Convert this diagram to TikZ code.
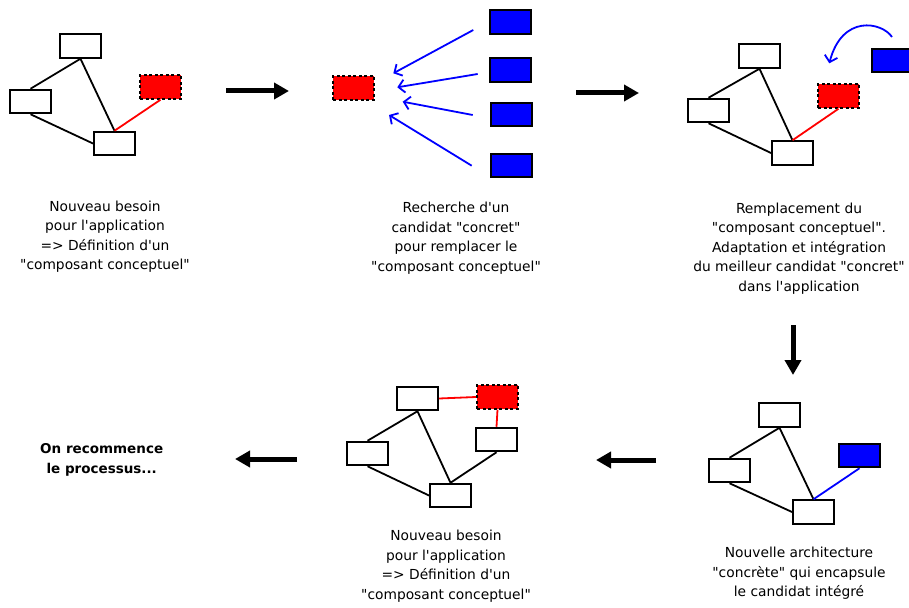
\documentclass[tikz,border=0pt]{standalone}
\usepackage{fontspec}
\setmainfont{DejaVu Sans}[Ligatures=TeXOff]
\usetikzlibrary{arrows.meta}
\begin{document}
\begin{tikzpicture}[x=1pt,y=-1pt,
  box/.style={draw=black, line width=2pt, fill=white, minimum width=41pt, minimum height=23.5pt, inner sep=0pt},
  redbox/.style={box, fill=red, dash pattern=on 3pt off 2.5pt},
  bluebox/.style={box, fill=blue},
  link/.style={line width=1.8pt, black},
  redlink/.style={line width=1.8pt, red},
  bluelink/.style={line width=1.8pt, blue},
  bigarrow/.style={line width=5pt, -{Triangle[length=15pt,width=16pt]}},
  barb/.style={blue, line width=1.8pt, -{Straight Barb[length=6pt,width=13pt]}},
  txt/.style={align=center, inner sep=0pt, anchor=north, font=\fontsize{13.8}{19.5}\selectfont},
]
\useasboundingbox (0,0) rectangle (909,607);
\clip (0,0) rectangle (909,607);

% Panel 1
\node[box] (A1) at (80.5,46) {};
\node[box] (B1) at (30.5,101.5) {};
\node[box] (C1) at (114.5,143.5) {};
\node[redbox] (R1) at (160.5,87) {};
\draw[link] (A1.south) -- (B1.north);
\draw[link] (B1.south) -- (C1.west);
\draw[link] (A1.south) -- (C1.north);
\draw[redlink] (R1.south) -- (C1.north);

% Panel 2
\node[redbox] (R2) at (353.5,88) {};
\node[bluebox] (P1) at (510.5,22) {};
\node[bluebox] (P2) at (510.5,70) {};
\node[bluebox] (P3) at (511,114.5) {};
\node[bluebox] (P4) at (511,165.5) {};
\coordinate (s1) at (473.3,30);  \coordinate (e1) at (393.3,73.3);
\coordinate (s2) at (477.7,74);  \coordinate (e2) at (397.3,87.3);
\coordinate (s3) at (472.7,115); \coordinate (e3) at (402.7,101.7);
\coordinate (s4) at (471.7,165.7); \coordinate (e4) at (389,115);
\draw[barb] (s1) -- (e1);
\draw[barb] (s2) -- (e2);
\draw[barb] (s3) -- (e3);
\draw[barb] (s4) -- (e4);

% Panel 3
\node[box] (A3) at (759.5,56) {};
\node[box] (B3) at (708.5,110.5) {};
\node[box] (C3) at (792.5,153) {};
\node[redbox] (R3) at (838.5,96) {};
\node[bluebox] (Q3) at (892.5,60.5) {};
\draw[link] (A3.south) -- (B3.north);
\draw[link] (B3.south) -- (C3.west);
\draw[link] (A3.south) -- (C3.north);
\draw[redlink] (R3.south) -- (C3.north);
\coordinate (cs) at (892,37);
\coordinate (ce) at (829.3,63.3);
\draw[barb] (cs) .. controls (882,22) and (842,14) .. (ce);

% Panel 4
\node[box] (A4) at (417.5,398.5) {};
\node[redbox] (R4) at (497.5,397) {};
\node[box] (D4) at (496.5,439.5) {};
\node[box] (B4) at (367.5,453.5) {};
\node[box] (C4) at (450.5,495.5) {};
\draw[redlink] (A4.east) -- (R4.west);
\draw[redlink] (R4.south) -- (D4.north);
\draw[link] (A4.south) -- (B4.north);
\draw[link] (B4.south) -- (C4.west);
\draw[link] (A4.south) -- (C4.north);
\draw[link] (D4.south) -- (C4.north);

% Panel 5
\node[box] (A5) at (779.5,415) {};
\node[box] (B5) at (729.5,470.5) {};
\node[box] (C5) at (813.5,512) {};
\node[bluebox] (Q5) at (859.5,455.5) {};
\draw[link] (A5.south) -- (B5.north);
\draw[link] (B5.south) -- (C5.west);
\draw[link] (A5.south) -- (C5.north);
\draw[bluelink] (Q5.south) -- (C5.north);

% Big arrows
\coordinate (a1s) at (226,91);  \coordinate (a1e) at (289,91);
\coordinate (a2s) at (576,93);  \coordinate (a2e) at (639,93);
\coordinate (a3s) at (793,325); \coordinate (a3e) at (793,375);
\coordinate (a4s) at (656,460); \coordinate (a4e) at (596,460);
\coordinate (a5s) at (297,459); \coordinate (a5e) at (235,459);
\draw[bigarrow] (a1s) -- (a1e);
\draw[bigarrow] (a2s) -- (a2e);
\draw[bigarrow] (a3s) -- (a3e);
\draw[bigarrow] (a4s) -- (a4e);
\draw[bigarrow] (a5s) -- (a5e);

% Texts
\node[txt] (T1) at (105,200.5) {Nouveau besoin\\pour l'application\\=> Définition d'un\\"composant conceptuel"};
\node[txt] (T2) at (456,202) {Recherche d'un\\candidat "concret"\\pour remplacer le\\"composant conceptuel"};
\node[txt] (T3) at (799,202.5) {Remplacement du\\"composant conceptuel".\\Adaptation et intégration\\du meilleur candidat "concret"\\dans l'application};
\node[txt] (T4) at (446,530) {Nouveau besoin\\pour l'application\\=> Définition d'un\\"composant conceptuel"};
\node[txt] (T5) at (799,547) {Nouvelle architecture\\"concrète" qui encapsule\\le candidat intégré};
\node[txt, font=\fontsize{13.5}{20}\selectfont\bfseries] (T6) at (101.7,443) {On recommence\\le processus...};
\end{tikzpicture}
\end{document}
